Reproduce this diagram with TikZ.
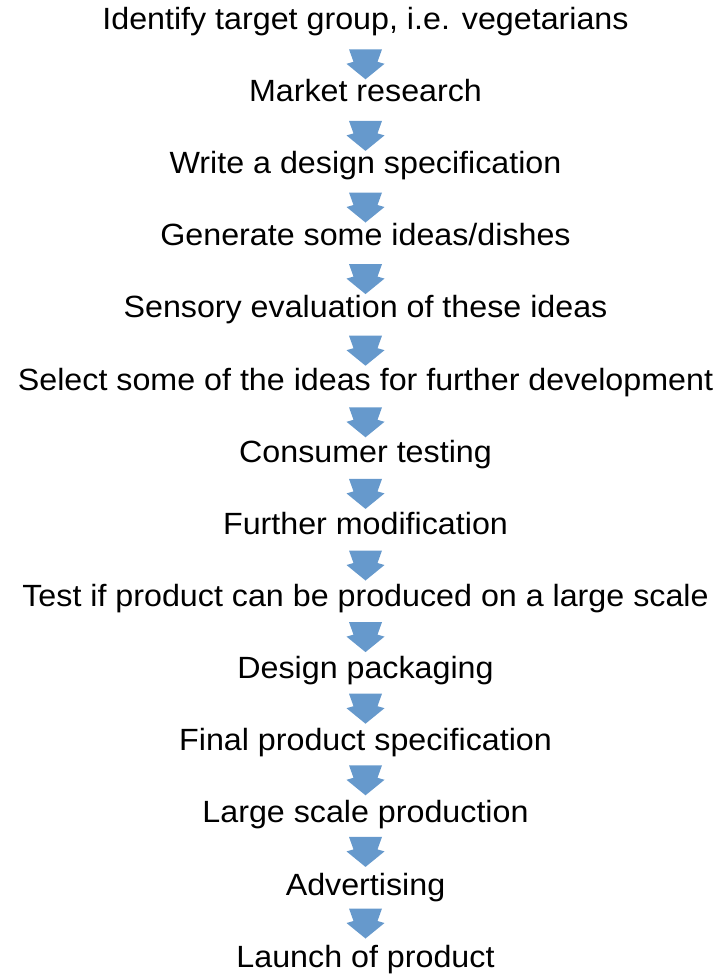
\documentclass[tikz,border=0pt]{standalone}
\usepackage{fontspec}
\setmainfont{Liberation Sans}[FakeStretch=1.05]
\definecolor{arrowblue}{RGB}{102,153,204}
\tikzset{
  stage/.style={anchor=base, inner sep=0pt, text=black,
    font=\fontsize{30.7}{36}\selectfont},
  downarrow/.pic={
    \fill[arrowblue] (-16.5,0) -- (16.5,0) -- (12,-12.5) -- (19,-14.5)
      -- (0,-30) -- (-19,-14.5) -- (-12,-12.5) -- cycle;
  }
}
\begin{document}
\begin{tikzpicture}[x=1pt,y=1pt]
  \useasboundingbox (0,0) rectangle (722,-975);
  % process stages, one per line
  \foreach \t [count=\i from 0] in {
      {Identify target group, i.e. vegetarians},
      {Market research},
      {Write a design specification},
      {Generate some ideas/dishes},
      {Sensory evaluation of these ideas},
      {Select some of the ideas for further development},
      {Consumer testing},
      {Further modification},
      {Test if product can be produced on a large scale},
      {Design packaging},
      {Final product specification},
      {Large scale production},
      {Advertising},
      {Launch of product}}{
    \node[stage] (s\i) at (365.5,{-29.3-72.15*\i}) {\t};
  }
  % block arrows between consecutive stages
  \foreach \i in {0,...,12}{
    \pic at (365.5,{-49.3-71.6*\i}) {downarrow};
  }
\end{tikzpicture}
\end{document}
